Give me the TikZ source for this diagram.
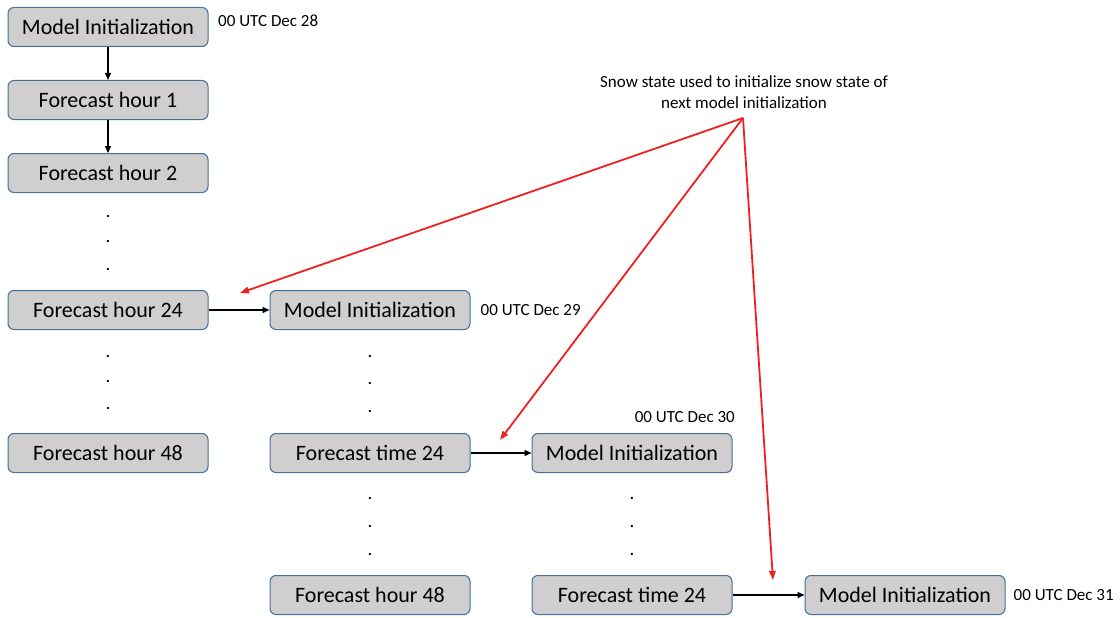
\documentclass[tikz,border=0pt]{standalone}
\usepackage{fontspec}
\setmainfont{Carlito}
\usepackage{tikz}
\usetikzlibrary{arrows.meta, positioning}
\definecolor{boxfill}{HTML}{D0CECE}
\definecolor{boxline}{HTML}{41719C}
\definecolor{carryred}{HTML}{EE2020}
\tikzset{
  stage/.style={
    rectangle, rounded corners=6pt, draw=boxline, line width=1pt,
    fill=boxfill, minimum width=200pt, minimum height=39pt,
    align=center, font=\fontsize{22}{26}\selectfont
  },
  stamp/.style={font=\fontsize{17}{21}\selectfont, inner sep=0pt},
  gap/.style={font=\fontsize{19}{21}\selectfont, inner sep=0pt, anchor=base},
  flow/.style={-{Triangle[length=7pt,width=6pt]}, line width=1.4pt, draw=black},
  carry/.style={-{Triangle[length=9pt,width=6.5pt]}, line width=1.8pt, draw=carryred}
}

\begin{document}
\begin{tikzpicture}[x=1pt, y=-1pt]
  \useasboundingbox (0,0) rectangle (1120,618);
  % first run
  \node[stage] (init1) at (108,27) {Model Initialization};
  \node[stage] (fh1) at (108,100) {Forecast hour 1};
  \node[stage] (fh2) at (108,173) {Forecast hour 2};
  \node[stage] (fh24) at (108,310) {Forecast hour 24};
  \node[stage] (fh48) at (108,453) {Forecast hour 48};
  % second run
  \node[stage] (init2) at (370,310) {Model Initialization};
  \node[stage] (ft24a) at (370,453) {Forecast time 24};
  \node[stage] (fh48b) at (370,595) {Forecast hour 48};
  % third run
  \node[stage] (init3) at (632,453) {Model Initialization};
  \node[stage] (ft24b) at (632,595) {Forecast time 24};
  % fourth run
  \node[stage] (init4) at (905,595) {Model Initialization};

  % dates
  \node[stamp, anchor=west] (d28) at (218,21) {00 UTC Dec 28};
  \node[stamp, anchor=west, right=10pt of init2] (d29) {00 UTC Dec 29};
  \node[stamp, anchor=south east] (d30) at (735,423) {00 UTC Dec 30};
  \node[stamp, anchor=west, right=8pt of init4] (d31) {00 UTC Dec 31};

  % skipped hours
  \foreach \x/\ys in {108/{217,242,270}, 108/{357,382,409}, 370/{357,384,412},
                      370/{499,527,555}, 632/{499,527,555}}
    \foreach \y in \ys
      \node[gap] at (\x,\y) {.};

  \draw[flow] (init1) -- (fh1);
  \draw[flow] (fh1) -- (fh2);
  \draw[flow] (fh24) -- (init2);
  \draw[flow] (ft24a) -- (init3);
  \draw[flow] (ft24b) -- (init4);

  % snow state carried over
  \node[stamp, align=center] (note) at (744,92)
    {Snow state used to initialize snow state of\\next model initialization};
  \coordinate (src) at (743,118);
  \coordinate (to2) at (240,293);
  \coordinate (to3) at (500,440);
  \coordinate (to4) at (773,580);
  \draw[carry] (src) -- (to2);
  \draw[carry] (src) -- (to3);
  \draw[carry] (src) -- (to4);
\end{tikzpicture}
\end{document}
